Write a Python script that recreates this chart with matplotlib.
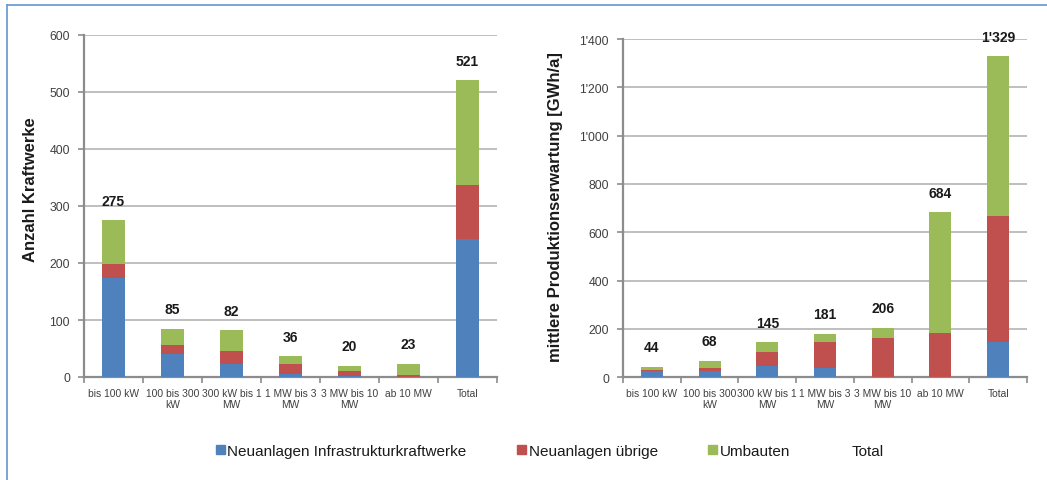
import matplotlib
matplotlib.use("Agg")
import matplotlib.pyplot as plt
from matplotlib.patches import Patch
from matplotlib.lines import Line2D

plt.rcParams['font.family'] = ['Liberation Sans', 'DejaVu Sans']

categories = ['bis 100 kW', '100 bis 300\nkW', '300 kW bis 1\nMW', '1 MW bis 3\nMW',
              '3 MW bis 10\nMW', 'ab 10 MW', 'Total']

# Anzahl Kraftwerke
count_infra = [173, 40, 22, 6, 1, 0, 242]
count_other = [25, 16, 24, 16, 9, 4, 94]
count_rebuild = [77, 29, 36, 14, 10, 19, 185]
count_total = [275, 85, 82, 36, 20, 23, 521]

# mittlere Produktionserwartung [GWh/a]
prod_infra = [28, 26, 48, 40, 3, 0, 145]
prod_other = [2, 12, 58, 106, 160, 183, 521]
prod_rebuild = [14, 30, 39, 35, 43, 501, 663]
prod_total = [44, 68, 145, 181, 206, 684, 1329]

BLUE = '#4f81bd'
RED = '#c0504d'
GREEN = '#9bbb59'
GRID = '#b4b4b4'
AXIS = '#8c8c8c'
TEXT = '#404040'


def fmt(v):
    return f"{v:,}".replace(",", "'")


def draw_panel(ax, infra, other, rebuild, total, ymax, ystep, ylabel):
    x = list(range(len(categories)))
    base2 = [a + b for a, b in zip(infra, other)]
    ax.bar(x, infra, width=0.38, color=BLUE, zorder=3)
    ax.bar(x, other, width=0.38, bottom=infra, color=RED, zorder=3)
    ax.bar(x, rebuild, width=0.38, bottom=base2, color=GREEN, zorder=3)

    for xi, t in zip(x, total):
        ax.annotate(fmt(t), (xi, t), xytext=(0, 14), textcoords='offset points',
                    ha='center', va='center', fontsize=10, fontweight='bold',
                    color='#1a1a1a', zorder=5)

    ax.set_xlim(-0.5, len(categories) - 0.5)
    ax.set_ylim(0, ymax)
    yt = list(range(0, ymax + 1, ystep))
    ax.set_yticks(yt)
    ax.set_yticklabels([fmt(v) for v in yt], fontsize=8.8, color=TEXT)
    ax.set_xticks(x)
    ax.set_xticklabels(categories, fontsize=7.4, color=TEXT, linespacing=1.1)
    ax.set_xticks([i - 0.5 for i in range(len(categories) + 1)], minor=True)
    ax.tick_params(axis='x', which='major', length=0, pad=8)
    ax.tick_params(axis='x', which='minor', length=4, width=1.2, color=AXIS)
    ax.tick_params(axis='y', length=4, width=1.2, color=AXIS, pad=6)

    ax.yaxis.grid(True, color=GRID, linewidth=1.2, zorder=0)
    ax.set_axisbelow(True)
    for side in ['top', 'right']:
        ax.spines[side].set_visible(False)
    for side in ['left', 'bottom']:
        ax.spines[side].set_color(AXIS)
        ax.spines[side].set_linewidth(1.6)
    ax.set_ylabel(ylabel, fontsize=12, fontweight='bold', color='#1a1a1a')


fig = plt.figure(figsize=(10.47, 4.81), dpi=100)

ax1 = fig.add_axes([84 / 1047, 1 - 378 / 481, 413 / 1047, 342 / 481])
draw_panel(ax1, count_infra, count_other, count_rebuild, count_total,
           600, 100, 'Anzahl Kraftwerke')
ax1.yaxis.set_label_coords(38 / 1047, 1 - 190 / 481, transform=fig.transFigure)

ax2 = fig.add_axes([623 / 1047, 1 - 378.3 / 481, 404 / 1047, 338.3 / 481])
draw_panel(ax2, prod_infra, prod_other, prod_rebuild, prod_total,
           1400, 200, 'mittlere Produktionserwartung [GWh/a]')
ax2.yaxis.set_label_coords(563 / 1047, 1 - 207 / 481, transform=fig.transFigure)

handles = [Patch(color=BLUE), Patch(color=RED), Patch(color=GREEN),
           Line2D([], [], color='none')]
labels = ['Neuanlagen Infrastrukturkraftwerke', 'Neuanlagen übrige', 'Umbauten', 'Total']
fig.legend(handles, labels, loc='center', bbox_to_anchor=(550 / 1047, 1 - 452 / 481),
           ncol=4, frameon=False, fontsize=11, handlelength=0.6, handleheight=0.6,
           handletextpad=0.15, columnspacing=3.3, labelcolor='#1a1a1a')

# outer frame
fig.add_artist(Line2D([7 / 1047, 7 / 1047], [0, 1 - 6 / 481], color='#6d9fd2',
                      linewidth=1.3, transform=fig.transFigure))
fig.add_artist(Line2D([7 / 1047, 1], [1 - 6 / 481, 1 - 6 / 481], color='#6d9fd2',
                      linewidth=1.3, transform=fig.transFigure))

fig.savefig('out.png', dpi=100)
